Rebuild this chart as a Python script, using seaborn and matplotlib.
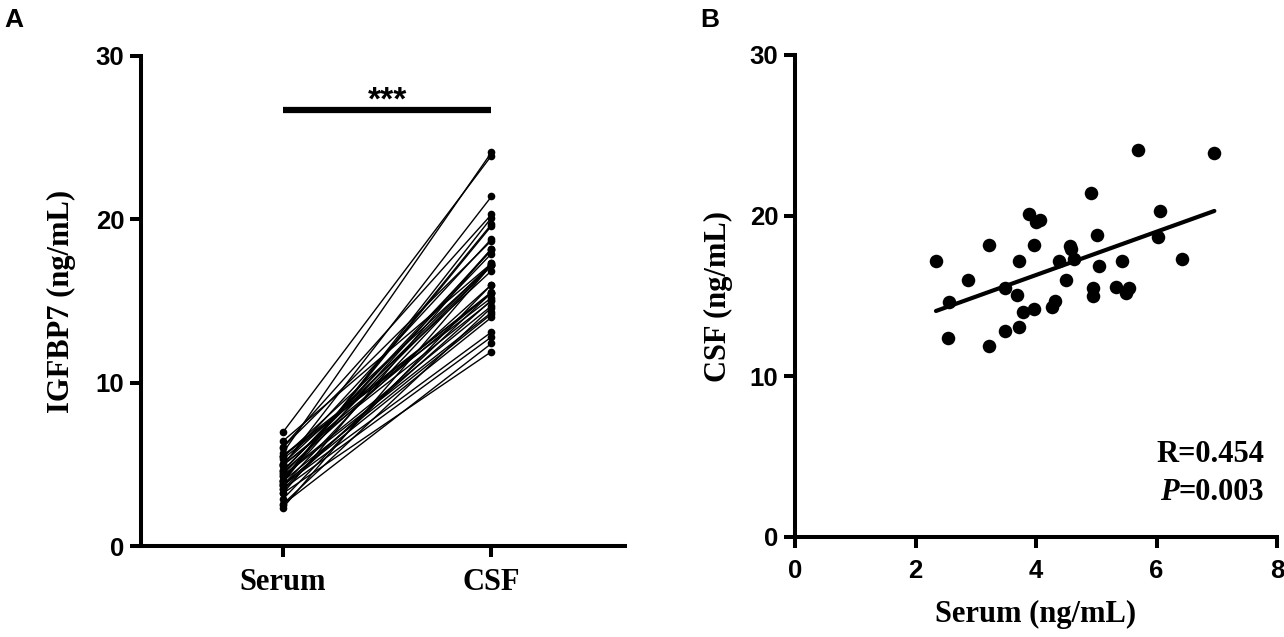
import numpy as np
import pandas as pd
import matplotlib
matplotlib.use("Agg")
import matplotlib.pyplot as plt
import seaborn as sns

# ---- data ----
serum = [5.69, 6.96, 4.92, 6.06, 3.88, 4.00, 4.07, 6.03, 5.01, 3.22,
         3.97, 4.57, 4.58, 2.34, 3.72, 4.38, 4.63, 5.43, 6.42, 5.04,
         2.87, 4.50, 3.49, 4.94, 5.33, 5.54, 5.50, 4.94, 3.68, 2.56,
         4.31, 4.27, 3.97, 3.78, 3.71, 3.48, 2.54, 3.22]
csf = [24.1, 23.9, 21.4, 20.3, 20.1, 19.6, 19.7, 18.7, 18.8, 18.2,
       18.2, 18.1, 17.9, 17.2, 17.2, 17.2, 17.3, 17.2, 17.3, 16.85,
       16.0, 16.0, 15.5, 15.5, 15.55, 15.5, 15.2, 15.0, 15.05, 14.6,
       14.7, 14.3, 14.2, 14.0, 13.1, 12.8, 12.4, 11.9]
groups = ["Serum", "CSF"]
yticks = [0, 10, 20, 30]
xticks_b = [0, 2, 4, 6, 8]
sig_label = "***"
stat_r = "R=0.454"
stat_p = "=0.003"

sns.set_style("ticks", {"axes.edgecolor": "black", "text.color": "black",
                        "xtick.color": "black", "ytick.color": "black",
                        "axes.labelcolor": "black"})
plt.rcParams["font.family"] = ["Liberation Sans", "DejaVu Sans"]

SERIF = ["Liberation Serif", "DejaVu Serif"]
SANS = ["Liberation Sans", "DejaVu Sans"]
SPW = 2.9

fig = plt.figure(figsize=(12.84, 6.37), dpi=100)

# ---------------- Panel A ----------------
axA = fig.add_axes([141/1284, 1-546/637, (625-141)/1284, (546-56)/637])
n = len(serum)
long = pd.DataFrame({
    "id": list(range(n)) * 2,
    "group": [groups[0]] * n + [groups[1]] * n,
    "value": serum + csf,
})
long["pos"] = long["group"].map({g: i for i, g in enumerate(groups)})
sns.lineplot(data=long, x="pos", y="value", units="id", estimator=None,
             color="black", lw=1.0, marker="o", markersize=5.5,
             markeredgewidth=0, ax=axA, legend=False)
axA.set_xlim(-0.68, 1.64)
axA.set_ylim(0, 30)
axA.set_yticks(yticks)
axA.set_xticks([0, 1])
axA.set_xticklabels(groups, fontfamily=SERIF, fontweight="bold", fontsize=22)
for lab in axA.get_yticklabels():
    lab.set_fontfamily(SANS); lab.set_fontweight("bold"); lab.set_fontsize(18.5)
axA.set_xlabel("")
axA.set_ylabel("IGFBP7 (ng/mL)", fontfamily=SERIF, fontweight="bold",
               fontsize=22, labelpad=14)
sns.despine(ax=axA)
for s in ["left", "bottom"]:
    axA.spines[s].set_linewidth(SPW)
axA.tick_params(width=SPW, length=8, direction="out", pad=4)
axA.tick_params(axis="x", pad=8)
# significance bar
axA.plot([0, 1], [26.7, 26.7], color="black", lw=4.5, solid_capstyle="butt")
axA.text(0.5, 26.27, sig_label, ha="center", va="bottom", fontsize=24,
         fontweight="bold", fontfamily=SANS, zorder=5)

# ---------------- Panel B ----------------
axB = fig.add_axes([795/1284, 1-537/637, (1277-795)/1284, (537-55)/637])
dfB = pd.DataFrame({"Serum": serum, "CSF": csf})
sns.regplot(data=dfB, x="Serum", y="CSF", ci=None, color="black", ax=axB,
            scatter_kws={"s": 95, "linewidths": 0, "alpha": 1},
            line_kws={"lw": 3.0})
axB.set_xlim(0, 8)
axB.set_ylim(0, 30)
axB.set_xticks(xticks_b)
axB.set_yticks(yticks)
for lab in axB.get_xticklabels() + axB.get_yticklabels():
    lab.set_fontfamily(SANS); lab.set_fontweight("bold"); lab.set_fontsize(18.5)
axB.set_xlabel("Serum (ng/mL)", fontfamily=SERIF, fontweight="bold",
               fontsize=22, labelpad=12)
axB.set_ylabel("CSF (ng/mL)", fontfamily=SERIF, fontweight="bold",
               fontsize=22, labelpad=12)
sns.despine(ax=axB)
for s in ["left", "bottom"]:
    axB.spines[s].set_linewidth(SPW)
axB.tick_params(width=SPW, length=8, direction="out", pad=4)
axB.tick_params(axis="x", pad=8)

axB.text(0.973, 0.156, stat_r, transform=axB.transAxes, ha="right",
         va="baseline", fontfamily=SERIF, fontweight="bold", fontsize=22)
tp = axB.text(0.973, 0.077, stat_p, transform=axB.transAxes, ha="right",
              va="baseline", fontfamily=SERIF, fontweight="bold", fontsize=22)
axB.annotate("P", xy=(0, 0), xycoords=tp, ha="right", va="bottom",
             fontfamily=SERIF, fontweight="bold", fontstyle="italic",
             fontsize=22)

# panel letters
fig.text(4/1284, 1-8/637, "A", ha="left", va="top", fontsize=19,
         fontweight="bold", fontfamily=SANS)
fig.text(700/1284, 1-8/637, "B", ha="left", va="top", fontsize=19,
         fontweight="bold", fontfamily=SANS)

fig.savefig("out.png", dpi=100)
